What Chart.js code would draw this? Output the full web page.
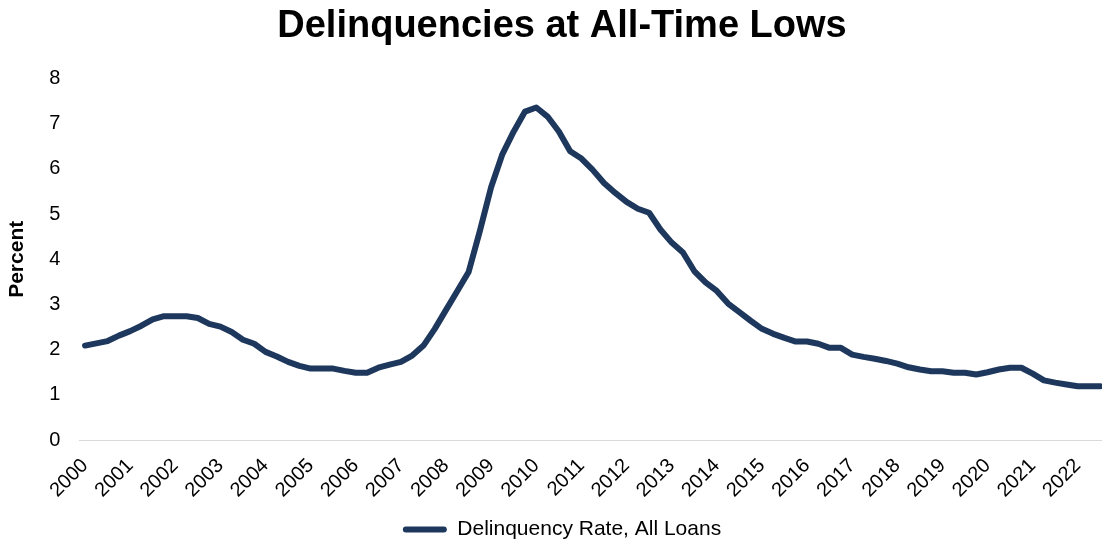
<!DOCTYPE html>
<html>
<head>
<meta charset="utf-8">
<title>Delinquencies at All-Time Lows</title>
<script src="https://cdn.jsdelivr.net/npm/chart.js@4.4.1/dist/chart.umd.min.js"></script>
<style>
  html, body { margin: 0; padding: 0; background: #ffffff; overflow: hidden; }
  #wrap { position: relative; width: 1106px; height: 550px; }
</style>
</head>
<body>
<div id="wrap"><canvas id="chart" width="1106" height="550"></canvas></div>
<script>
// Quarterly delinquency rate on all loans, percent (2000 Q1 - 2022 Q3)
const years = [2000, 2001, 2002, 2003, 2004, 2005, 2006, 2007, 2008, 2009, 2010, 2011,
               2012, 2013, 2014, 2015, 2016, 2017, 2018, 2019, 2020, 2021, 2022];
const quarters = ['Q1', 'Q2', 'Q3', 'Q4'];
const lastQuarterIndex = 2; // series ends in Q3 of the final year

const delinquencyRate = [
  2.09, 2.14, 2.19, 2.31,   // 2000
  2.41, 2.53, 2.67, 2.74,   // 2001
  2.74, 2.74, 2.70, 2.57,   // 2002
  2.51, 2.39, 2.22, 2.13,   // 2003
  1.95, 1.85, 1.73, 1.64,   // 2004
  1.58, 1.58, 1.58, 1.53,   // 2005
  1.49, 1.49, 1.60, 1.67,   // 2006
  1.73, 1.87, 2.09, 2.46,   // 2007
  2.88, 3.30, 3.72, 4.63,   // 2008
  5.60, 6.33, 6.83, 7.27,   // 2009
  7.36, 7.16, 6.83, 6.39,   // 2010
  6.23, 5.98, 5.69, 5.47,   // 2011
  5.27, 5.12, 5.03, 4.66,   // 2012
  4.37, 4.15, 3.74, 3.49,   // 2013
  3.30, 3.02, 2.83, 2.64,   // 2014
  2.46, 2.35, 2.26, 2.18,   // 2015
  2.18, 2.13, 2.04, 2.04,   // 2016
  1.89, 1.84, 1.80, 1.75,   // 2017
  1.69, 1.61, 1.56, 1.52,   // 2018
  1.52, 1.49, 1.49, 1.45,   // 2019
  1.50, 1.56, 1.60, 1.60,   // 2020
  1.47, 1.32, 1.27, 1.23,   // 2021
  1.19, 1.19, 1.19          // 2022
];

const yTicks = [0, 1, 2, 3, 4, 5, 6, 7, 8];
const seriesName = 'Delinquency Rate, All Loans';
const lineColor = '#1e385d';
const fontFamily = "'Liberation Sans', Arial, Helvetica, sans-serif";

// One category per quarter; only the first quarter of each year is labelled
const categories = [];
years.forEach((yr, yi) => {
  quarters.forEach((q, qi) => {
    if (yi === years.length - 1 && qi > lastQuarterIndex) return;
    categories.push({ year: String(yr), quarter: q });
  });
});

const ctx = document.getElementById('chart').getContext('2d');
new Chart(ctx, {
  type: 'line',
  data: {
    labels: categories.map(c => c.year + ' ' + c.quarter),
    datasets: [{
      label: seriesName,
      data: delinquencyRate,
      borderColor: lineColor,
      backgroundColor: lineColor,
      borderWidth: 6,
      borderJoinStyle: 'round',
      borderCapStyle: 'round',
      pointRadius: 0,
      pointHoverRadius: 0,
      tension: 0,
      fill: false
    }]
  },
  options: {
    responsive: false,
    animation: false,
    devicePixelRatio: 1,
    layout: { padding: { left: 18, right: 0, top: 0, bottom: 0 } },
    plugins: {
      title: {
        display: true,
        text: 'Delinquencies at All-Time Lows',
        color: '#000000',
        font: { family: fontFamily, size: 38, weight: 'bold' },
        padding: { top: 4, bottom: 29 }
      },
      legend: {
        display: true,
        position: 'bottom',
        labels: {
          color: '#000000',
          font: { family: fontFamily, size: 21 },
          boxWidth: 44,
          boxHeight: 6,
          padding: 10,
          generateLabels(chart) {
            const items = Chart.defaults.plugins.legend.labels.generateLabels(chart);
            items.forEach(it => {
              it.lineWidth = 0;
              it.fillStyle = lineColor;
              it.borderRadius = 3;
            });
            return items;
          }
        }
      },
      tooltip: { enabled: false }
    },
    scales: {
      x: {
        type: 'category',
        offset: true,
        grid: { display: false, drawTicks: false },
        border: { display: true, color: '#d9d9d9', width: 1 },
        ticks: {
          autoSkip: false,
          minRotation: 45,
          maxRotation: 45,
          padding: 14,
          color: '#000000',
          font: { family: fontFamily, size: 20 },
          callback(value, index) {
            const c = categories[index];
            return c.quarter === 'Q1' ? c.year : '';
          }
        },
        afterFit(scale) {
          scale.height = 69;
          scale.paddingLeft = 0;
          scale.paddingRight = 0;
        }
      },
      y: {
        min: 0,
        max: 8,
        grid: { display: false, drawTicks: false },
        border: { display: false },
        afterBuildTicks(scale) { scale.ticks = yTicks.map(v => ({ value: v })); },
        ticks: {
          padding: 19,
          color: '#000000',
          font: { family: fontFamily, size: 20 }
        },
        title: {
          display: true,
          text: 'Percent',
          color: '#000000',
          font: { family: fontFamily, size: 21, weight: 'bold' },
          padding: { top: -13, bottom: 0 }
        },
        afterFit(scale) { scale.width = 61.4; }
      }
    }
  }
});
</script>
</body>
</html>
